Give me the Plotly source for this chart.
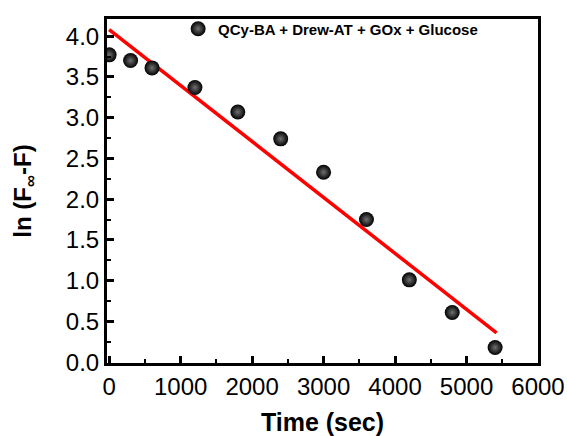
import plotly.graph_objects as go

time_sec = [0, 300, 600, 1200, 1800, 2400, 3000, 3600, 4200, 4800, 5400]
ln_values = [3.77, 3.70, 3.61, 3.37, 3.07, 2.74, 2.33, 1.75, 1.01, 0.61, 0.18]
fit_x = [0, 5420]
fit_y = [4.08, 0.36]
series_name = "QCy-BA + Drew-AT + GOx + Glucose"
x_ticks = [0, 1000, 2000, 3000, 4000, 5000, 6000]
y_ticks = [0, 0.5, 1.0, 1.5, 2.0, 2.5, 3.0, 3.5, 4.0]
y_ticktext = ["0.0", "0.5", "1.0", "1.5", "2.0", "2.5", "3.0", "3.5", "4.0"]

FONT = "Arial, Liberation Sans, sans-serif"

fig = go.Figure()
fig.add_trace(go.Scatter(
    x=fit_x, y=fit_y, mode="lines",
    line=dict(color="#ff0000", width=3.5), showlegend=False, hoverinfo="skip"))
fig.add_trace(go.Scatter(
    x=time_sec, y=ln_values, mode="markers", name="<b>" + series_name + "</b>",
    marker=dict(size=15, color="#000000",
                gradient=dict(type="radial", color="#707070"),
                line=dict(width=0))))

axis_common = dict(
    showline=True, linecolor="black", linewidth=3, mirror=True,
    ticks="inside", ticklen=7, tickwidth=3, tickcolor="black",
    showgrid=False, zeroline=False, automargin=False,
    tickfont=dict(family=FONT, size=24, color="black"),
)
fig.update_xaxes(
    range=[-30, 6000], tickmode="array", tickvals=x_ticks,
    minor=dict(ticks="inside", ticklen=4, tickwidth=2, dtick=500, tickcolor="black"),
    title=dict(text="<b>Time (sec)</b>", standoff=15,
               font=dict(family=FONT, size=25, color="black")),
    **axis_common)
fig.update_yaxes(
    range=[-0.01, 4.21], tickmode="array", tickvals=y_ticks, ticktext=y_ticktext,
    minor=dict(ticks="inside", ticklen=4, tickwidth=2, dtick=0.25, tickcolor="black"),
    title=dict(text="<b>ln (F<sub>∞</sub>-F)</b>", standoff=28,
               font=dict(family=FONT, size=24, color="black")),
    **axis_common)

fig.update_layout(
    width=567, height=436,
    margin=dict(l=107, r=29, t=12, b=73),
    paper_bgcolor="white", plot_bgcolor="white",
    legend=dict(x=0.165, y=1.019, xanchor="left", yanchor="top",
                bgcolor="rgba(0,0,0,0)", borderwidth=0,
                font=dict(family=FONT, size=15, color="black")),
    showlegend=True,
)
fig.write_html("out.html",
               config={"displayModeBar": False},
               post_script="document.body.style.margin='0';document.body.style.overflow='hidden';")
